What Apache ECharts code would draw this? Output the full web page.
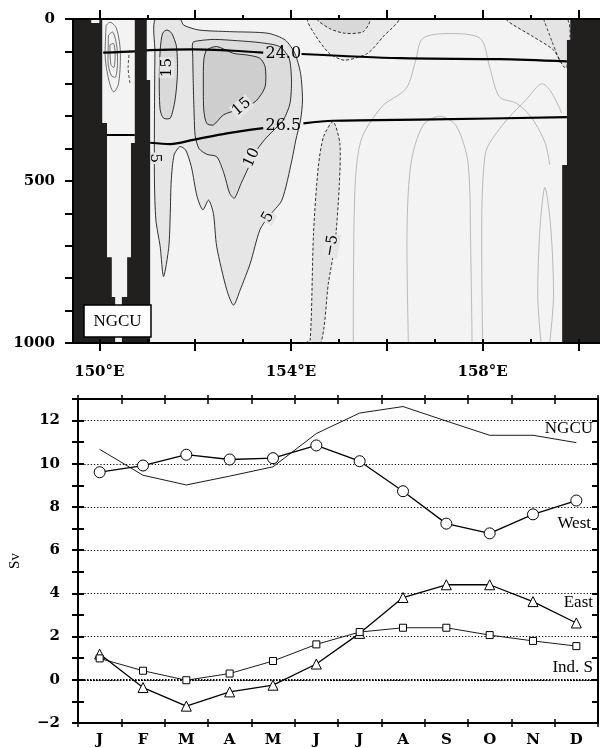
<!DOCTYPE html>
<html lang="en">
<head>
<meta charset="UTF-8">
<title>NGCU section and seasonal transport</title>
<script src="https://cdn.jsdelivr.net/npm/echarts@6/dist/echarts.min.js"></script>
<style>
    html, body { margin: 0; padding: 0; background: #fff; }
    #chart { width: 600px; height: 748px; }
</style>
</head>
<body>
<div id="chart"></div>
<script>
// ---------- lower panel: monthly transport (Sv) ----------
var months = ['J', 'F', 'M', 'A', 'M', 'J', 'J', 'A', 'S', 'O', 'N', 'D'];
var ngcuSv = [10.67, 9.47, 9.02, 9.43, 9.86, 11.4, 12.35, 12.65, 11.98, 11.32, 11.32, 10.98];
var westSv = [9.61, 9.92, 10.42, 10.2, 10.26, 10.85, 10.12, 8.73, 7.23, 6.78, 7.66, 8.3];
var eastSv = [1.19, -0.36, -1.22, -0.56, -0.25, 0.73, 2.15, 3.81, 4.4, 4.4, 3.62, 2.63];
var indSv = [0.99, 0.42, -0.02, 0.29, 0.87, 1.64, 2.21, 2.41, 2.41, 2.07, 1.8, 1.56];

// ---------- upper panel: velocity section, [lon, depth] ----------
var lonTicks = [150, 151, 152, 153, 154, 155, 156, 157, 158, 159, 160];
var lonMajor = [150, 152, 154, 156, 158, 160];
var lonLabels = [150, 154, 158];

// land / bottom topography
var landWest = [[149.45, 0], [149.83, 0], [149.83, 12], [150.0, 12], [150.0, 0], [150.06, 0], [150.06, 321],
    [150.16, 321], [150.16, 735], [150.26, 735], [150.26, 858], [150.33, 858], [150.33, 1000], [149.45, 1000]];
var landMid = [[150.74, 0], [150.99, 0], [150.99, 188], [151.06, 188], [151.06, 1000], [150.47, 1000],
    [150.47, 858], [150.58, 858], [150.58, 735], [150.66, 735], [150.66, 383], [150.74, 383]];
var landEast = [[159.83, 0], [160.45, 0], [160.45, 1000], [159.66, 1000], [159.66, 451], [159.76, 451],
    [159.76, 65], [159.83, 65]];

// contour regions
var vel5 = [[151.17, 0], [151.68, 0], [151.76, 19], [152.08, 34], [152.72, 39], [153.52, 44], [153.88, 65],
    [154.08, 106], [154.2, 168], [154.24, 250], [154.2, 312], [154.1, 374], [154.02, 435], [153.81, 559],
    [153.53, 610], [153.35, 651], [153.15, 754], [152.94, 836], [152.8, 883], [152.66, 836], [152.45, 703],
    [152.38, 600], [152.28, 559], [152.16, 589], [152.04, 548], [151.92, 456], [151.8, 404], [151.68, 394],
    [151.56, 420], [151.5, 500], [151.48, 600], [151.45, 703], [151.34, 795], [151.27, 703], [151.18, 620],
    [151.15, 500], [151.15, 300], [151.16, 100]];
var vel10 = [[151.95, 73], [152.08, 67], [152.4, 63], [152.88, 67], [153.36, 73], [153.76, 85], [153.96, 121],
    [154.01, 188], [153.98, 260], [153.84, 312], [153.64, 343], [153.44, 374], [153.24, 415], [153.12, 456],
    [152.96, 507], [152.82, 553], [152.72, 538], [152.6, 476], [152.45, 425], [152.25, 418], [152.08, 400],
    [152.0, 360], [151.98, 300], [151.96, 199], [151.95, 116]];
var vel15 = [[152.18, 127], [152.24, 96], [152.45, 85], [152.8, 106], [153.08, 111], [153.35, 121], [153.46, 147],
    [153.46, 209], [153.29, 250], [153.08, 271], [152.87, 281], [152.59, 296], [152.38, 327], [152.24, 322],
    [152.18, 281], [152.17, 198]];
var vel15w = [[151.41, 34], [151.51, 44], [151.61, 85], [151.63, 168], [151.58, 250], [151.48, 306], [151.34, 306],
    [151.27, 281], [151.25, 198], [151.27, 96], [151.32, 44]];
var velNegDeep = [[154.3, 1000], [154.4, 991], [154.47, 661], [154.57, 456], [154.68, 363], [154.88, 317],
    [155.02, 384], [155.01, 507], [154.92, 692], [154.78, 816], [154.62, 1000]];
var velNegTop = [[154.36, 0], [154.48, 44], [154.8, 106], [155.12, 127], [155.6, 106], [155.92, 55], [156.24, 0]];
var velNegTopIn = [[154.55, 0], [154.8, 29], [155.12, 44], [155.51, 39], [155.64, 0]];
var velNegEast = [[158.5, 0], [159.06, 55], [159.48, 96], [159.69, 147], [159.76, 150], [159.76, 0]];
var coreLines = [
    [[150.14, 20], [150.22, 10], [150.36, 30], [150.44, 110], [150.4, 200], [150.3, 225], [150.2, 190], [150.12, 110], [150.14, 20]],
    [[150.19, 50], [150.27, 40], [150.36, 80], [150.38, 130], [150.33, 180], [150.25, 175], [150.18, 130], [150.19, 50]],
    [[150.22, 80], [150.29, 75], [150.33, 110], [150.3, 150], [150.24, 140], [150.22, 80]]
];
var dashLines = [
    [[150.63, 96], [150.6, 150], [150.64, 198]],
    [[159.27, 0], [159.45, 70], [159.62, 135]]
];
// faint zero contours (grey)
var zeroLines = [
    [[156.45, 1000], [156.42, 700], [156.5, 450], [156.75, 330], [157.1, 300], [157.45, 330], [157.7, 450], [157.75, 700], [157.78, 1000]],
    [[155.3, 1000], [155.32, 600], [155.45, 380], [155.9, 270], [156.4, 215], [156.6, 130], [156.75, 60], [157.3, 45], [157.95, 60], [158.15, 150], [158.35, 240], [158.7, 260], [159.0, 300], [159.3, 380], [159.4, 450]],
    [[158.0, 1000], [157.98, 700], [158.05, 420], [158.4, 330], [158.9, 250], [159.25, 200], [159.45, 230], [159.65, 290]],
    [[159.22, 1000], [159.15, 850], [159.2, 640], [159.3, 520], [159.42, 640], [159.48, 850], [159.4, 1000]]
];

// isopycnals (sigma-theta)
var sigma240 = [[150.08, 104], [150.74, 100], [151.06, 96], [151.96, 94], [152.8, 98], [153.42, 104], '-',
    [154.22, 108], [156.28, 121], [158.36, 124], [159.76, 131]];
var sigma265 = [[150.15, 358], [150.74, 358], '-', [151.06, 382], [151.48, 386], [151.96, 373], [152.66, 353],
    [153.42, 337], '-', [154.26, 322], [154.88, 314], [156.97, 310], [159.76, 303]];

// contour labels: [lon, depth, text]
var contourLabels = [[151.41, 150, '15'], [152.97, 271, '15'], [153.18, 428, '10'], [151.16, 430, '5'],
    [153.52, 612, '5'], [154.85, 700, '\u22125'], [153.84, 106, '24.0'], [153.84, 331, '26.5']];
var labelTurn = [90, 40, 65, -90, 60, 80, 0, 0];

var chart = echarts.init(document.getElementById('chart'));

var boldSerif = { fontFamily: 'DejaVu Serif', fontWeight: 'bold', fontSize: 15, color: '#000' };
var blackLine = { color: '#000', width: 2 };

function polygonSeries(points, fill, stroke, dashed, z) {
    return {
        type: 'custom', xAxisIndex: 0, yAxisIndex: 0, z: z, silent: true, clip: true,
        data: [points[0]],
        renderItem: function (params, api) {
            var pts = points.map(function (p) { return api.coord(p); });
            return {
                type: 'polygon',
                shape: { points: pts, smooth: stroke === 'none' ? 0 : 0.25 },
                style: { fill: fill, stroke: stroke === 'none' ? null : stroke, lineWidth: 0.8, lineDash: dashed ? [3, 2] : null }
            };
        }
    };
}

function lineSeries(points, width, dashed, color, z) {
    return {
        type: 'line', xAxisIndex: 0, yAxisIndex: 0, data: points, showSymbol: false, symbol: 'none',
        smooth: 0.3, silent: true, z: z || 4, animation: false,
        lineStyle: { color: color || '#000', width: width, type: dashed ? [3, 2] : 'solid' }
    };
}

var series = [
    polygonSeries(vel5, '#e6e6e6', '#000', false, 1),
    polygonSeries(vel10, '#dcdcdc', '#000', false, 2),
    polygonSeries(vel15, '#cecece', '#000', false, 3),
    polygonSeries(vel15w, '#d9d9d9', '#000', false, 3),
    polygonSeries(velNegDeep, '#e3e3e3', '#000', true, 1),
    polygonSeries(velNegTop, '#eaeaea', '#000', true, 1),
    polygonSeries(velNegTopIn, '#d8d8d8', '#000', true, 2),
    polygonSeries(velNegEast, '#e4e4e4', '#000', true, 1)
];
zeroLines.forEach(function (c) { series.push(lineSeries(c, 0.8, false, '#aaa', 0)); });
coreLines.forEach(function (c) { series.push(lineSeries(c, 0.7, false, '#333')); });
dashLines.forEach(function (c) { series.push(lineSeries(c, 0.7, true)); });
series.push(lineSeries(sigma240, 2.2, false));
series.push(lineSeries(sigma265, 2.2, false));

series.push({
    type: 'custom', xAxisIndex: 0, yAxisIndex: 0, z: 6, silent: true,
    data: contourLabels,
    renderItem: function (params, api) {
        var p = api.coord([api.value(0), api.value(1)]);
        var i = params.dataIndex;
        var big = contourLabels[i][2].length > 2;
        return {
            type: 'text', x: p[0], y: p[1], rotation: labelTurn[i] * Math.PI / 180,
            style: {
                text: contourLabels[i][2], fill: '#000',
                font: (big ? '16px' : '15px') + ' "DejaVu Serif"',
                align: 'center', verticalAlign: 'middle',
                backgroundColor: big ? null : '#e6e6e6', padding: [0, 1]
            }
        };
    }
});

series.push(polygonSeries(landWest, '#221f1f', 'none', false, 8));
series.push(polygonSeries(landMid, '#221f1f', 'none', false, 8));
series.push(polygonSeries(landEast, '#221f1f', 'none', false, 8));

// lower panel lines
function svSeries(name, values, symbol, size, width) {
    return {
        name: name, type: 'line', xAxisIndex: 4, yAxisIndex: 1, data: values,
        symbol: symbol, symbolSize: size, showSymbol: symbol !== 'none', animation: false, z: 5,
        lineStyle: { color: '#000', width: width },
        itemStyle: { color: '#fff', borderColor: '#000', borderWidth: 1 }
    };
}
var ngcuLine = svSeries('NGCU', ngcuSv, 'none', 0, 0.9);
ngcuLine.markLine = {
    silent: true, symbol: 'none', label: { show: false },
    lineStyle: { color: '#000', width: 2, type: [1.5, 1.5] },
    data: [{ yAxis: 0 }]
};
series.push(ngcuLine);
series.push(svSeries('West', westSv, 'circle', 11, 1.3));
series.push(svSeries('East', eastSv, 'triangle', 10, 1.3));
series.push(svSeries('Ind. S', indSv, 'rect', 7, 0.9));

var lonMin = 149.45, lonMax = 160.45;
var noZero = { show: true, onZero: false, lineStyle: blackLine };
var monthTick = { color: '#000', width: 1.5 };
var option = {
    animation: false,
    grid: [
        { left: 73, right: 0, top: 19, height: 324, show: true, backgroundColor: '#f3f3f3', borderWidth: 0 },
        { left: 74, right: 2, top: 399, height: 324 }
    ],
    xAxis: [
        {
            gridIndex: 0, type: 'value', min: lonMin, max: lonMax, position: 'bottom', z: 10,
            axisLine: noZero,
            axisTick: { show: true, customValues: lonMajor, length: 8, lineStyle: blackLine },
            axisLabel: Object.assign({ customValues: lonLabels, margin: 22, formatter: function (v) { return v + '°E'; } }, boldSerif),
            splitLine: { show: false }
        },
        {
            gridIndex: 0, type: 'value', min: lonMin, max: lonMax, position: 'bottom', z: 10,
            axisLine: { show: false, onZero: false },
            axisTick: { show: true, customValues: lonTicks, inside: true, length: 4, lineStyle: blackLine },
            axisLabel: { show: false }, splitLine: { show: false }
        },
        {
            gridIndex: 0, type: 'value', min: lonMin, max: lonMax, position: 'top', z: 10,
            axisLine: noZero,
            axisTick: { show: true, customValues: lonMajor, length: 9, lineStyle: blackLine },
            axisLabel: { show: false }, splitLine: { show: false }
        },
        {
            gridIndex: 0, type: 'value', min: lonMin, max: lonMax, position: 'top', z: 10,
            axisLine: { show: false, onZero: false },
            axisTick: { show: true, customValues: lonTicks, length: 4, lineStyle: blackLine },
            axisLabel: { show: false }, splitLine: { show: false }
        },
        {
            gridIndex: 1, type: 'category', data: months, position: 'bottom', boundaryGap: true, z: 10,
            axisLine: noZero,
            axisTick: { show: true, length: 4, lineStyle: monthTick },
            axisLabel: Object.assign({ interval: 0, margin: 10 }, boldSerif)
        },
        {
            gridIndex: 1, type: 'category', data: months, position: 'bottom', boundaryGap: true, z: 10,
            axisLine: { show: false, onZero: false },
            axisTick: { show: true, inside: true, length: 4, lineStyle: monthTick },
            axisLabel: { show: false }
        },
        {
            gridIndex: 1, type: 'category', data: months, position: 'top', boundaryGap: true, z: 10,
            axisLine: noZero,
            axisTick: { show: true, inside: true, length: 5, lineStyle: monthTick },
            axisLabel: { show: false }
        },
        {
            gridIndex: 1, type: 'category', data: months, position: 'top', boundaryGap: true, z: 10,
            axisLine: { show: false, onZero: false },
            axisTick: { show: true, length: 4, lineStyle: monthTick },
            axisLabel: { show: false }
        }
    ],
    yAxis: [
        {
            gridIndex: 0, type: 'value', inverse: true, min: 0, max: 1000, interval: 100, z: 10,
            axisLine: noZero,
            axisTick: { show: true, length: 8, lineStyle: blackLine },
            axisLabel: Object.assign({ margin: 18, formatter: function (v) { return v % 500 === 0 ? v : ''; } }, boldSerif),
            splitLine: { show: false }
        },
        {
            gridIndex: 1, type: 'value', min: -2, max: 13, interval: 1, z: 10,
            name: 'Sv', nameLocation: 'middle', nameGap: 55,
            nameTextStyle: { fontFamily: 'Liberation Serif', fontSize: 15, color: '#000' },
            axisLine: noZero,
            axisTick: { show: true, length: 6, lineStyle: blackLine },
            axisLabel: Object.assign({
                margin: 18,
                formatter: function (v) { return v % 2 === 0 ? (v < 0 ? '\u2212' + (-v) : v) : ''; }
            }, boldSerif),
            splitLine: { show: false }
        },
        {
            gridIndex: 1, type: 'value', min: -2, max: 13, interval: 1, position: 'left', z: 10,
            axisLine: { show: false, onZero: false },
            axisTick: { show: true, inside: true, length: 6, lineStyle: blackLine },
            axisLabel: { show: false }, splitLine: { show: false }
        },
        {
            gridIndex: 1, type: 'value', min: -2, max: 13, interval: 1, position: 'right', z: 10,
            axisLine: noZero,
            axisTick: { show: true, inside: true, length: 6, lineStyle: blackLine },
            axisLabel: { show: false }, splitLine: { show: false }
        },
        {
            gridIndex: 1, type: 'value', min: -2, max: 13, interval: 2, position: 'left', z: 1,
            axisLine: { show: false }, axisTick: { show: false }, axisLabel: { show: false },
            splitLine: { show: true, lineStyle: { color: '#000', width: 1, type: [1.2, 2] } }
        }
    ],
    series: series,
    graphic: [
        { type: 'rect', z: 100, shape: { x: 84, y: 305, width: 67, height: 32 },
          style: { fill: '#fff', stroke: '#000', lineWidth: 1.5 } },
        { type: 'text', z: 101, x: 117.5, y: 322,
          style: { text: 'NGCU', font: '17px "Liberation Serif"', fill: '#000', align: 'center', verticalAlign: 'middle', textAlign: 'center', textVerticalAlign: 'middle' } },
        { type: 'text', z: 101, x: 593, y: 429,
          style: { text: 'NGCU', font: '17px "Liberation Serif"', fill: '#000', align: 'right', verticalAlign: 'middle', textAlign: 'right', textVerticalAlign: 'middle' } },
        { type: 'text', z: 101, x: 591, y: 524,
          style: { text: 'West', font: '17px "Liberation Serif"', fill: '#000', align: 'right', verticalAlign: 'middle', textAlign: 'right', textVerticalAlign: 'middle' } },
        { type: 'text', z: 101, x: 593, y: 603,
          style: { text: 'East', font: '17px "Liberation Serif"', fill: '#000', align: 'right', verticalAlign: 'middle', textAlign: 'right', textVerticalAlign: 'middle' } },
        { type: 'text', z: 101, x: 593, y: 668,
          style: { text: 'Ind. S', font: '17px "Liberation Serif"', fill: '#000', align: 'right', verticalAlign: 'middle', textAlign: 'right', textVerticalAlign: 'middle' } }
    ]
};
chart.setOption(option);
</script>
</body>
</html>
